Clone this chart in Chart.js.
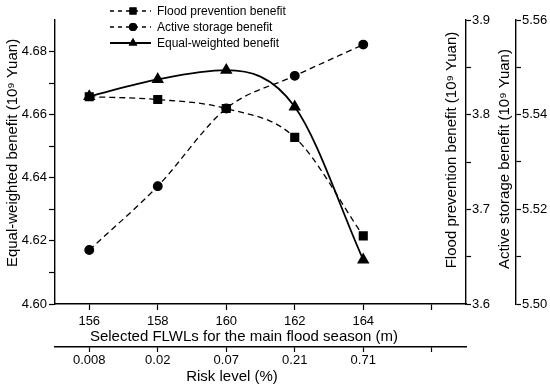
<!DOCTYPE html>
<html lang="en">
<head>
<meta charset="UTF-8">
<title>Benefits vs selected FLWL</title>
<script src="https://cdn.jsdelivr.net/npm/chart.js"></script>
<style>
  body { margin: 0; background: #fff; }
  #wrap { width: 550px; height: 391px; }
</style>
</head>
<body>
<div id="wrap"><canvas id="benefitChart" width="550" height="391"></canvas></div>
<script>
// data
var flwl = [156, 158, 160, 162, 164];
var riskLevels = ['0.008', '0.02', '0.07', '0.21', '0.71'];
var floodBenefit = [3.819, 3.816, 3.8065, 3.776, 3.672];
var storageBenefit = [5.5114, 5.5249, 5.5413, 5.5482, 5.5548];
var equalBenefit = [4.6658, 4.6712, 4.6741, 4.6625, 4.614];

// tick positions
var xTicks = [156, 158, 160, 162, 164, 166];
var leftTicks = [4.60, 4.61, 4.62, 4.63, 4.64, 4.65, 4.66, 4.67, 4.68];
var floodTicks = [3.60, 3.65, 3.70, 3.75, 3.80, 3.85, 3.90];
var storageTicks = [5.50, 5.51, 5.52, 5.53, 5.54, 5.55, 5.56];

var FONT = 'Liberation Sans, Arial, sans-serif';
Chart.defaults.font.family = FONT;
Chart.defaults.color = '#000';

function pts(ys) {
    return flwl.map(function (x, i) { return { x: x, y: ys[i] }; });
}
function setTicks(list) {
    return function (scale) {
        scale.ticks = list.map(function (v) { return { value: v }; });
    };
}
function axisGrid(len) {
    return { drawOnChartArea: false, drawTicks: true, tickLength: len, tickColor: '#000', tickWidth: 1.2 };
}
var border = { display: true, color: '#000', width: 1.4 };

// axis titles and legend drawn by hand, like the original figure
var extras = {
    id: 'extras',
    afterDraw: function (chart) {
        var ctx = chart.ctx;
        ctx.save();
        ctx.fillStyle = '#000';
        ctx.font = '15px ' + FONT;
        ctx.textAlign = 'center';
        ctx.textBaseline = 'middle';
        ctx.fillText('Selected FLWLs for the main flood season (m)', 244, 337);
        ctx.fillText('Risk level (%)', 232, 377);

        var vt = [
            ['Equal-weighted benefit (10\u2079 Yuan)', 13, 153],
            ['Flood prevention benefit (10\u2079 Yuan)', 452, 150],
            ['Active storage benefit (10\u2079 Yuan)', 505, 159]
        ];
        vt.forEach(function (t) {
            ctx.save();
            ctx.translate(t[1], t[2]);
            ctx.rotate(-Math.PI / 2);
            ctx.fillText(t[0], 0, 0);
            ctx.restore();
        });

        // legend
        var rows = [
            ['Flood prevention benefit', 'rect', true, 11],
            ['Active storage benefit', 'circle', true, 27],
            ['Equal-weighted benefit', 'triangle', false, 43]
        ];
        ctx.font = '12px ' + FONT;
        ctx.textAlign = 'left';
        rows.forEach(function (r) {
            ctx.strokeStyle = '#000';
            ctx.lineWidth = r[2] ? 1.3 : 1.8;
            ctx.setLineDash(r[2] ? [4, 4] : []);
            ctx.beginPath();
            ctx.moveTo(110, r[3]);
            ctx.lineTo(151, r[3]);
            ctx.stroke();
            ctx.setLineDash([]);
            Chart.helpers.drawPoint(ctx, { pointStyle: r[1], radius: r[1] === 'circle' ? 4 : 5, borderWidth: 0 }, 133, r[3]);
            ctx.fill();
            ctx.fillText(r[0], 157, r[3] + 1);
        });
        ctx.restore();
    }
};

var ctx = document.getElementById('benefitChart').getContext('2d');
var benefitChart = new Chart(ctx, {
    type: 'line',
    data: {
        datasets: [{
            label: 'Flood prevention benefit',
            data: pts(floodBenefit),
            yAxisID: 'y1',
            borderColor: '#000',
            backgroundColor: '#000',
            borderWidth: 1.3,
            borderDash: [6, 4],
            pointStyle: 'rect',
            pointRadius: 5.5,
            cubicInterpolationMode: 'monotone'
        }, {
            label: 'Active storage benefit',
            data: pts(storageBenefit),
            yAxisID: 'y2',
            borderColor: '#000',
            backgroundColor: '#000',
            borderWidth: 1.3,
            borderDash: [6, 4],
            pointStyle: 'circle',
            pointRadius: 4.3,
            cubicInterpolationMode: 'monotone'
        }, {
            label: 'Equal-weighted benefit',
            data: pts(equalBenefit),
            yAxisID: 'y',
            borderColor: '#000',
            backgroundColor: '#000',
            borderWidth: 1.8,
            pointStyle: 'triangle',
            pointRadius: 5.4,
            cubicInterpolationMode: 'monotone'
        }]
    },
    options: {
        responsive: false,
        animation: false,
        clip: false,
        layout: { padding: { top: 20, left: 0, right: 0, bottom: 0 } },
        plugins: { legend: { display: false }, tooltip: { enabled: false } },
        scales: {
            x: {
                type: 'linear', position: 'bottom', min: 155, max: 167,
                afterBuildTicks: setTicks(xTicks),
                afterFit: function (s) { s.height = 43; },
                grid: axisGrid(6), border: border,
                ticks: {
                    autoSkip: false, maxRotation: 0, padding: 4, font: { size: 13 },
                    callback: function (v) { return v <= 164 ? String(v) : ''; }
                }
            },
            x2: {
                type: 'linear', position: 'bottom', min: 155, max: 167,
                afterBuildTicks: setTicks(xTicks),
                afterFit: function (s) { s.height = 44; },
                grid: axisGrid(5), border: border,
                ticks: {
                    autoSkip: false, maxRotation: 0, padding: 1, font: { size: 13 },
                    callback: function (v) {
                        var i = flwl.indexOf(v);
                        return i >= 0 ? riskLevels[i] : '';
                    }
                }
            },
            y: {
                type: 'linear', position: 'left', min: 4.60, max: 4.69,
                afterBuildTicks: setTicks(leftTicks),
                afterFit: function (s) { s.width = 55; },
                grid: axisGrid(6), border: border,
                ticks: {
                    padding: 2, font: { size: 13 },
                    callback: function (v) { return Math.round(v * 100) % 2 === 0 ? v.toFixed(2) : ''; }
                }
            },
            y1: {
                type: 'linear', position: 'right', min: 3.6, max: 3.9,
                afterBuildTicks: setTicks(floodTicks),
                afterFit: function (s) { s.width = 50; },
                grid: axisGrid(5), border: border,
                ticks: {
                    padding: 1, font: { size: 13 },
                    callback: function (v) { return Math.round(v * 100) % 10 === 0 ? v.toFixed(1) : ''; }
                }
            },
            y2: {
                type: 'linear', position: 'right', min: 5.50, max: 5.56,
                afterBuildTicks: setTicks(storageTicks),
                afterFit: function (s) { s.width = 34; },
                grid: axisGrid(5), border: border,
                ticks: {
                    padding: 1, font: { size: 13 },
                    callback: function (v) { return Math.round(v * 100) % 2 === 0 ? v.toFixed(2) : ''; }
                }
            }
        }
    },
    plugins: [extras]
});
</script>
</body>
</html>
